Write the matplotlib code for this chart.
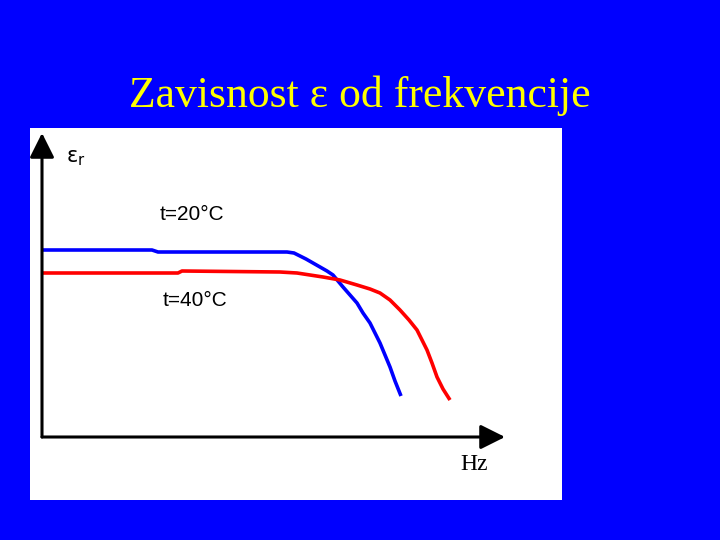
import matplotlib
matplotlib.use("Agg")
import matplotlib.pyplot as plt

# --- Data (frequency axis units, epsilon units) ---
freq_20 = [0, 110, 116, 198, 245, 252, 258, 264, 271, 278, 285, 291, 296, 301,
           308, 315, 321, 328, 333, 338, 343, 348, 353, 359]
eps_20 = [187, 187, 185, 185, 185, 184, 181, 178, 174, 170, 166, 162, 156, 150,
          142, 134, 124, 114, 104, 94, 82, 70, 56, 41]

freq_40 = [0, 136, 140, 238, 255, 268, 281, 298, 315, 328, 338, 348, 358, 367,
           375, 380, 385, 390, 395, 401, 408]
eps_40 = [164, 164, 166, 165, 164, 162, 160, 157, 152, 148, 144, 137, 127, 117,
          107, 97, 87, 74, 60, 48, 37]

title = "Zavisnost \u03b5 od frekvencije"
label_20 = "t=20\u00b0C"
label_40 = "t=40\u00b0C"

# --- Figure ---
fig = plt.figure(figsize=(7.2, 5.4), dpi=100)
fig.patch.set_facecolor("#0000FF")

fig.text(0.5, 1 - 96 / 540, title, ha="center", va="center",
         fontsize=31.5, color="#FFFF00", family="Liberation Serif")

ax = fig.add_axes([30 / 720, 40 / 540, 532 / 720, 372 / 540])
ax.set_facecolor("white")
ax.set_xlim(-12, 520)
ax.set_ylim(-63, 309)
for s in ax.spines.values():
    s.set_visible(False)
ax.set_xticks([])
ax.set_yticks([])

# axes with arrows
arrow = dict(arrowstyle="-|>,head_length=0.6,head_width=0.3",
             mutation_scale=25, lw=2.2, color="black", shrinkA=0, shrinkB=0)
ax.annotate("", xy=(0, 304), xytext=(0, 0), arrowprops=arrow)
ax.annotate("", xy=(463, 0), xytext=(0, 0), arrowprops=arrow)

# curves
ax.plot(freq_20, eps_20, color="#0000FF", lw=2.6, solid_capstyle="butt")
ax.plot(freq_40, eps_40, color="#FF0000", lw=2.6, solid_capstyle="butt")

# labels
ax.text(24, 279, r"$\mathregular{\varepsilon_r}$", fontsize=15, ha="left", va="center")
ax.text(118, 222, label_20, fontsize=15, ha="left", va="center",
        family="Liberation Sans")
ax.text(121, 137, label_40, fontsize=15, ha="left", va="center",
        family="Liberation Sans")
ax.text(418, -28, "Hz", fontsize=17, ha="left", va="center",
        family="Liberation Serif")

fig.savefig("out.png", dpi=100, facecolor=fig.get_facecolor())
